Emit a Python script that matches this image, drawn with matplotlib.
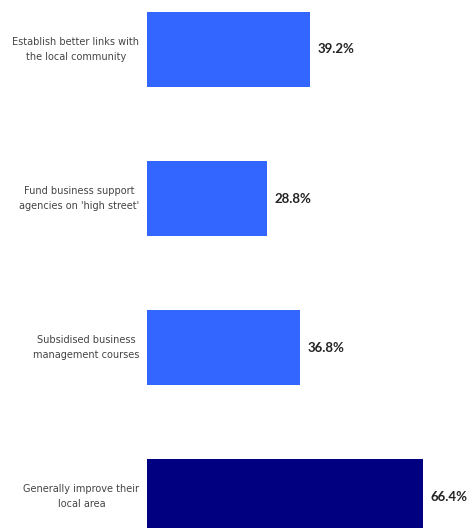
import matplotlib
matplotlib.use("Agg")
import matplotlib.pyplot as plt

# Survey responses, top to bottom
categories = [
    "Establish better links with\nthe local community",
    "Fund business support\nagencies on 'high street'",
    "Subsidised business\nmanagement courses",
    "Generally improve their\nlocal area",
]
values = [39.2, 28.8, 36.8, 66.4]
bar_colors = ["#3366FF", "#3366FF", "#3366FF", "#000080"]

W, H, DPI = 467, 528, 100
fig = plt.figure(figsize=(W / DPI, H / DPI), dpi=DPI, facecolor="white")

# axes start where the bars start; the bottom bar runs off the edge
left_px = 147
ax = fig.add_axes([left_px / W, 0.0, (W - left_px) / W, 1.0])

pos = list(range(len(categories)))
ax.barh(pos, values, height=0.5, color=bar_colors)

ax.set_xlim(0, (W - left_px) / 4.155)
ax.set_ylim(3.211, -0.332)
ax.set_axis_off()

for y, cat in zip(pos, categories):
    ax.annotate(cat, xy=(0, y), xytext=(-5.5, 0), textcoords="offset points",
                ha="right", va="center", multialignment="center",
                fontsize=7.0, color="#444444", family="DejaVu Sans",
                linespacing=1.7, annotation_clip=False)

for y, v in zip(pos, values):
    ax.annotate(f"{v:.1f}%", xy=(v, y), xytext=(5.8, 0),
                textcoords="offset points", ha="left", va="center",
                fontsize=9.5, fontweight="bold", color="#222222",
                family="Lato", annotation_clip=False)

fig.savefig("out.png", dpi=DPI, facecolor="white")
